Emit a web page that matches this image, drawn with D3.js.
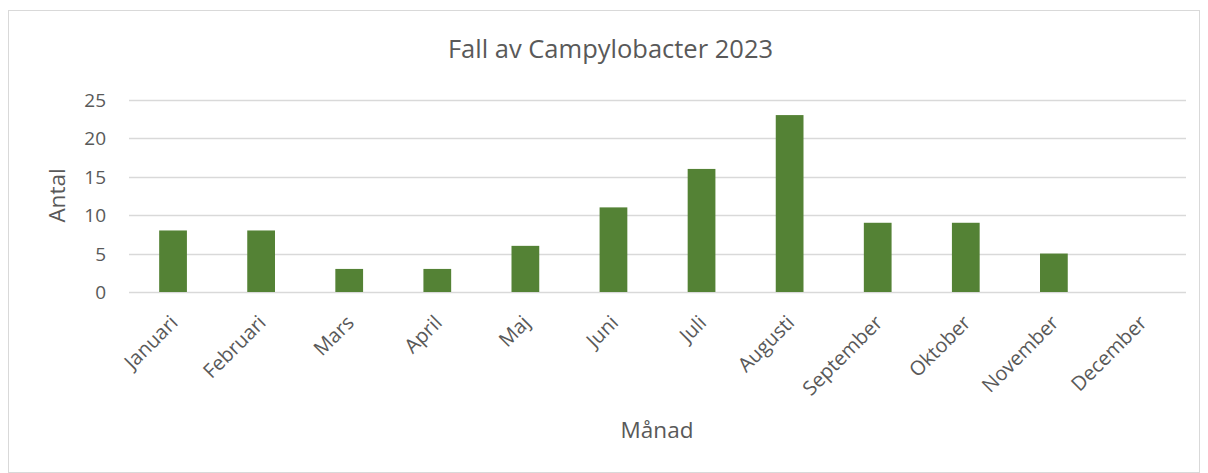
<!DOCTYPE html>
<html><head><meta charset="utf-8">
<script src="https://cdn.jsdelivr.net/npm/d3@7"></script>
<style>body{margin:0;background:#fff}svg{display:block}text{font-family:"Open Sans","Liberation Sans",sans-serif;fill:#595959}</style>
</head><body><svg id="c" width="1208" height="473"></svg>
<script>
const categories = ["Januari","Februari","Mars","April","Maj","Juni","Juli","Augusti","September","Oktober","November","December"];
const values = [8,8,3,3,6,11,16,23,9,9,5,0];
const yTicks = [0,5,10,15,20,25];
const title = "Fall av Campylobacter 2023";
const yTitle = "Antal";
const xTitle = "Månad";

const svg = d3.select("#c");
svg.append("rect").attr("x",8.5).attr("y",10.5).attr("width",1191).attr("height",462).attr("fill","#fff").attr("stroke","#d9d9d9");
const L=129, R=1186, T=99.7, B=292;
const x = d3.scaleBand().domain(categories).range([L,R]).paddingInner(0.685).paddingOuter(0.3425);
const y = d3.scaleLinear().domain([0,25]).range([B,T]);

svg.append("g").selectAll("line").data(yTicks).join("line")
  .attr("x1",L).attr("x2",R).attr("y1",d=>Math.round(y(d))+0.5).attr("y2",d=>Math.round(y(d))+0.5)
  .attr("stroke","#d9d9d9").attr("stroke-width",1.3);

svg.append("g").selectAll("rect").data(values).join("rect")
  .attr("x",(d,i)=>x(categories[i])).attr("width",x.bandwidth())
  .attr("y",d=>y(d)).attr("height",d=>B-y(d)).attr("fill","#548235");

const ya = svg.append("g").attr("transform",`translate(${L},0)`)
  .call(d3.axisLeft(y).tickValues(yTicks).tickSize(0).tickPadding(23));
ya.select(".domain").remove();
ya.selectAll("text").attr("font-size",19).style("font-family",null).attr("fill","#595959").attr("dy","0.35em");

const xa = svg.append("g").attr("transform",`translate(0,${B})`)
  .call(d3.axisBottom(x).tickSize(0).tickPadding(0));
xa.select(".domain").remove();
xa.selectAll("text").attr("font-size",20).style("font-family",null).attr("fill","#595959")
  .attr("text-anchor","end").attr("dy",null).attr("y",0)
  .attr("transform","translate(6,32) rotate(-45)");

svg.append("text").attr("x",610.5).attr("y",58).attr("text-anchor","middle").attr("font-size",25.5).text(title);
svg.append("text").attr("transform","translate(65,195.5) rotate(-90)").attr("text-anchor","middle").attr("font-size",22.5).text(yTitle);
svg.append("text").attr("x",657).attr("y",438).attr("text-anchor","middle").attr("font-size",22.5).text(xTitle);
</script></body></html>
